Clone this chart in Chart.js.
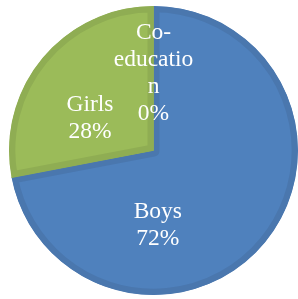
<!DOCTYPE html>
<html>
<head>
<meta charset="utf-8">
<script src="https://cdn.jsdelivr.net/npm/chart.js@4"></script>
<style>
html,body{margin:0;padding:0;background:#fff;}
#wrap{width:298px;height:299px;}
</style>
</head>
<body>
<div id="wrap"><canvas id="c" width="298" height="299"></canvas></div>
<script>
const categories = ['Boys', 'Girls', 'Co-education'];
const values = [72, 28, 0];
const fillColors = ['#4F81BD', '#9BBB59', '#FFFFFF'];
const edgeColors = ['#4A77AE', '#8FAD53', '#FFFFFF'];
// label anchor offsets as fractions of the radius (dx, dy)
const labelOffsets = [[0.03, 0.52], [-0.44, -0.22], [0.0, -0.535]];

function wrapText(ctx, text, maxW) {
  const out = [];
  const parts = text.split(/(?<=-)/);
  let cur = '';
  for (const p of parts) {
    if (ctx.measureText(cur + p).width <= maxW) { cur += p; continue; }
    if (cur) { out.push(cur); cur = ''; }
    for (const ch of p) {
      if (ctx.measureText(cur + ch).width <= maxW) cur += ch;
      else { out.push(cur); cur = ch; }
    }
  }
  if (cur) out.push(cur);
  return out;
}

const labelPlugin = {
  id: 'sliceLabels',
  afterDatasetsDraw(chart) {
    const ctx = chart.ctx;
    const meta = chart.getDatasetMeta(0);
    const total = values.reduce((a, b) => a + b, 0);
    ctx.save();
    ctx.fillStyle = '#FFFFFF';
    ctx.font = "23.5px 'Liberation Serif', serif";
    ctx.textAlign = 'center';
    ctx.textBaseline = 'middle';
    meta.data.forEach((arc, i) => {
      const r = arc.outerRadius;
      const cx = arc.x + labelOffsets[i][0] * r;
      const cy = arc.y + labelOffsets[i][1] * r;
      const pct = Math.round(values[i] / total * 100) + '%';
      const lines = wrapText(ctx, categories[i], 84).concat([pct]);
      const lh = 27;
      const top = cy - (lines.length - 1) * lh / 2;
      lines.forEach((ln, k) => ctx.fillText(ln, cx, top + k * lh));
    });
    ctx.restore();
  }
};

function draw() {
  new Chart(document.getElementById('c'), {
    type: 'pie',
    data: {
      labels: categories,
      datasets: [{
        data: values,
        backgroundColor: fillColors,
        borderColor: edgeColors,
        borderWidth: [6, 6, 0],
        borderAlign: 'inner'
      }]
    },
    options: {
      responsive: false,
      animation: false,
      events: [],
      layout: { padding: { left: 9, right: 0, top: 5, bottom: 3 } },
      plugins: { legend: { display: false }, tooltip: { enabled: false } }
    },
    plugins: [labelPlugin]
  });
}
if (document.fonts && document.fonts.load) {
  document.fonts.load("24px 'Liberation Serif'").then(draw, draw);
} else { draw(); }
</script>
</body>
</html>
